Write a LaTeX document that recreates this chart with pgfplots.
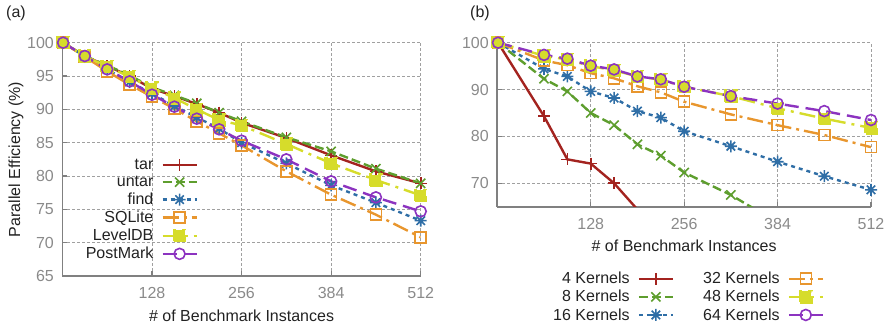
\documentclass[border=0pt]{standalone}
\usepackage{fontspec}
\setmainfont{Liberation Sans}
\usepackage{pgfplots}
\pgfplotsset{compat=1.18}
\definecolor{cRed}{HTML}{A3231F}
\definecolor{cGreen}{HTML}{5E9E2E}
\definecolor{cBlue}{HTML}{2F6EA6}
\definecolor{cOrange}{HTML}{E8962E}
\definecolor{cYellow}{HTML}{D6DC2B}
\definecolor{cPurple}{HTML}{8C33C0}
\definecolor{axgray}{HTML}{808080}
\definecolor{gridgray}{HTML}{A0A0A0}
\definecolor{tlgray}{HTML}{8A8A8A}
\definecolor{lblack}{HTML}{222222}
\newcommand\fs{\fontsize{16}{19}\selectfont}
\pgfdeclareplotmark{gpstar}{%
 \pgfpathmoveto{\pgfqpoint{\pgfplotmarksize}{0pt}}\pgfpathlineto{\pgfqpoint{-\pgfplotmarksize}{0pt}}%
 \pgfpathmoveto{\pgfqpoint{0pt}{\pgfplotmarksize}}\pgfpathlineto{\pgfqpoint{0pt}{-\pgfplotmarksize}}%
 \pgfpathmoveto{\pgfqpoint{.707\pgfplotmarksize}{.707\pgfplotmarksize}}\pgfpathlineto{\pgfqpoint{-.707\pgfplotmarksize}{-.707\pgfplotmarksize}}%
 \pgfpathmoveto{\pgfqpoint{-.707\pgfplotmarksize}{.707\pgfplotmarksize}}\pgfpathlineto{\pgfqpoint{.707\pgfplotmarksize}{-.707\pgfplotmarksize}}%
 \pgfusepathqstroke}
\pgfplotsset{
 myaxis/.style={
  scale only axis, xmin=0, xmax=512, ymin=65, ymax=100,
  enlargelimits=false,
  xtick={128,256,384,512},
  axis x line*=bottom, axis y line*=left,
  axis line style={draw=axgray, line width=1.8pt, -},
  grid=major, grid style={dash pattern=on 2.5pt off 2.5pt, draw=gridgray, line width=0.9pt},
  tick style={draw=axgray, line width=1.2pt},
  major tick length=5pt, tick align=inside,
  /pgf/number format/assume math mode=true,
  tick label style={font=\fs, text=tlgray},
  xticklabel style={yshift=-8pt},
  yticklabel style={xshift=-5pt},
  label style={font=\fs, text=lblack},
  legend style={font=\fs, draw=none, fill=none, text=lblack, row sep=1pt,
    /tikz/every odd column/.append style={column sep=6pt}},
  legend plot pos=right,
  legend cell align=right,
  legend image code/.code={\draw[mark repeat=2,mark phase=2,##1] plot coordinates {(0pt,0pt) (17pt,0pt) (34pt,0pt)};},
  every axis plot/.append style={line width=2.4pt, mark size=5.5pt, mark options={solid, line width=1.6pt}},
 },
 sA/.style={cRed, solid, mark=+, mark size=6pt},
 sB/.style={cGreen, dash pattern=on 9pt off 4pt, mark=x, mark size=6.5pt},
 sC/.style={cBlue, dash pattern=on 4pt off 4pt, mark=gpstar, mark size=6pt},
 sD/.style={cOrange, dash pattern=on 16pt off 5pt on 3pt off 5pt, mark=square},
 sE/.style={cYellow, dash pattern=on 16pt off 6pt on 3pt off 6pt, mark=square*, mark options={fill=cYellow}},
 sF/.style={cPurple, dash pattern=on 14pt off 7pt, mark=o},
}
\begin{document}
\begin{tikzpicture}
\useasboundingbox (0,0) rectangle (891pt,326pt);
\node[font=\fs, text=lblack] at (16pt,313pt) {(a)};
\node[font=\fs, text=lblack] at (480pt,313pt) {(b)};
\begin{axis}[myaxis,
  at={(62.4pt,50pt)}, anchor=south west, width=358.3pt, height=233.3pt,
  ytick={65,70,...,100},
  xlabel={\# of Benchmark Instances},
  ylabel={Parallel Efficiency (\%)},
  xlabel style={at={(axis description cs:0.5,-0.171)}, anchor=center},
  ylabel style={at={(axis description cs:-0.1295,0.5)}, anchor=center, rotate=0},
  legend style={at={(0.3868,0.518)}, anchor=north east},
]
\addplot[sA] coordinates {(1,100)(32,98)(64,96.5)(96,95)(128,93.1)(160,92)(192,90.8)(224,89.5)(256,88)(320,85.7)(384,83.1)(448,80.7)(512,78.9)};
\addlegendentry{tar}
\addplot[sB] coordinates {(1,100)(32,98)(64,96.6)(96,95.1)(128,93.3)(160,92.1)(192,90.9)(224,89.5)(256,88.2)(320,85.8)(384,83.7)(448,81.1)(512,78.9)};
\addlegendentry{untar}
\addplot[sC] coordinates {(1,100)(32,98)(64,96)(96,94.1)(128,92.4)(160,90.5)(192,88.8)(224,87.1)(256,85.0)(320,81.9)(384,78.6)(448,76.0)(512,73.3)};
\addlegendentry{find}
\addplot[sD] coordinates {(1,100)(32,97.9)(64,95.7)(96,93.7)(128,91.9)(160,90.1)(192,88.2)(224,86.4)(256,84.6)(320,80.7)(384,77.2)(448,74.2)(512,70.8)};
\addlegendentry{SQLite}
\addplot[sE] coordinates {(1,100)(32,98)(64,96.4)(96,94.9)(128,93.2)(160,91.7)(192,90)(224,88.4)(256,87.6)(320,84.8)(384,81.9)(448,79.4)(512,77.1)};
\addlegendentry{LevelDB}
\addplot[sF] coordinates {(1,100)(32,98)(64,96)(96,94.2)(128,92.2)(160,90.4)(192,88.6)(224,87)(256,85.3)(320,82.5)(384,79.2)(448,76.8)(512,74.7)};
\addlegendentry{PostMark}
\end{axis}
\begin{axis}[myaxis,
  at={(497.3pt,119.3pt)}, anchor=south west, width=373.7pt, height=164pt,
  ytick={70,80,90,100},
  xlabel={\# of Benchmark Instances},
  xlabel style={at={(axis description cs:0.5,-0.24)}, anchor=center},
  legend columns=3, transpose legend,
  legend style={at={(0.1357,-0.374)}, anchor=north west, /tikz/every even column/.append style={column sep=27pt}},
]
\addplot[sA] coordinates {(1,100)(64,84.3)(96,75.1)(128,74.2)(160,70)(192,64.4)};
\addlegendentry{4 Kernels}
\addplot[sB] coordinates {(1,100)(64,92.3)(96,89.6)(128,85)(160,82.4)(192,78.3)(224,75.9)(256,72.3)(320,67.5)(384,61.6)};
\addlegendentry{8 Kernels}
\addplot[sC] coordinates {(1,100)(64,94.4)(96,92.8)(128,89.6)(160,88.2)(192,85.4)(224,84)(256,81.1)(320,77.9)(384,74.6)(448,71.5)(512,68.6)};
\addlegendentry{16 Kernels}
\addplot[sD] coordinates {(1,100)(64,96.2)(96,95.2)(128,93.5)(160,92.4)(192,90.7)(224,89.4)(256,87.4)(320,84.7)(384,82.4)(448,80.3)(512,77.7)};
\addlegendentry{32 Kernels}
\addplot[sE] coordinates {(1,100)(64,97.2)(96,96.4)(128,95)(160,94.1)(192,92.8)(224,92.1)(256,90.6)(320,88.6)(384,86)(448,83.8)(512,81.8)};
\addlegendentry{48 Kernels}
\addplot[sF] coordinates {(1,100)(64,97.4)(96,96.6)(128,95.1)(160,94.3)(192,92.8)(224,92.2)(256,90.6)(320,88.6)(384,87.0)(448,85.4)(512,83.5)};
\addlegendentry{64 Kernels}
\end{axis}
\end{tikzpicture}
\end{document}
